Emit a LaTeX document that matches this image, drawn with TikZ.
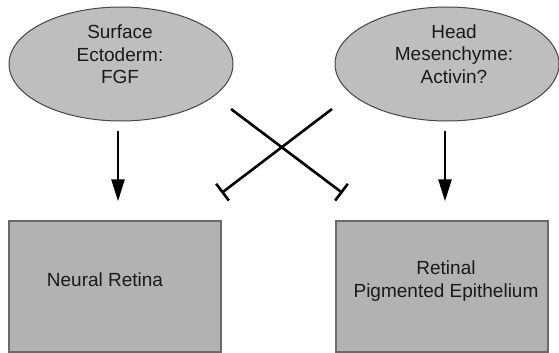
\documentclass[tikz,border=0pt]{standalone}
\usepackage{fontspec}
\setmainfont{Liberation Sans}
\usetikzlibrary{shapes.geometric,arrows.meta}
\definecolor{efill}{HTML}{BEBEBE}
\definecolor{bfill}{HTML}{B2B2B2}
\definecolor{edge}{HTML}{454545}
\definecolor{ink}{HTML}{1A1A1A}
\tikzset{
  source/.style={ellipse, draw=edge, line width=1pt, fill=efill, inner sep=0pt,
    minimum width=224pt, minimum height=114pt},
  tissue/.style={rectangle, draw=edge!80, line width=1.4pt, fill=bfill, inner sep=0pt,
    minimum width=212pt, minimum height=131pt},
  lbl/.style={text=ink, align=center, inner sep=0pt,
    font=\fontsize{19}{22.5}\selectfont},
  arr/.style={line width=2.6pt, -{Triangle[length=22pt,width=13pt]}},
  inh/.style={line width=2.6pt, -{Bar[width=21pt]}}
}
\begin{document}
\begin{tikzpicture}[x=1pt,y=-1pt]
\useasboundingbox (0,0) rectangle (559,353);
% sources
\node[source] (e1) at (121,64) {};
\node[source] (e2) at (447,64) {};
\node[lbl] (t1) at (120,54.5) {Surface\\Ectoderm:\\FGF};
\node[lbl] (t2) at (454,54) {Head\\Mesenchyme:\\Activin?};
% target tissues
\node[tissue] (b1) at (115,286.5) {};
\node[tissue] (b2) at (442,286.5) {};
\node[lbl] (t3) at (105,280) {Neural Retina};
\node[lbl] (t4) at (446,281) {Retinal\\Pigmented Epithelium};
% inducing arrows
\draw[arr, shorten <=9pt, shorten >=19pt] ([xshift=-3pt]e1.south) -- ([xshift=3pt]b1.north);
\draw[arr, shorten <=9pt, shorten >=19pt] ([xshift=-2pt]e2.south) -- ([xshift=3pt]b2.north);
% inhibitory connectors
\coordinate (i1s) at (231,109);
\coordinate (i1e) at (342.5,193);
\coordinate (i2s) at (332,109);
\coordinate (i2e) at (221.5,193);
\draw[inh] (i1s) -- (i1e);
\draw[inh] (i2s) -- (i2e);
\end{tikzpicture}
\end{document}
